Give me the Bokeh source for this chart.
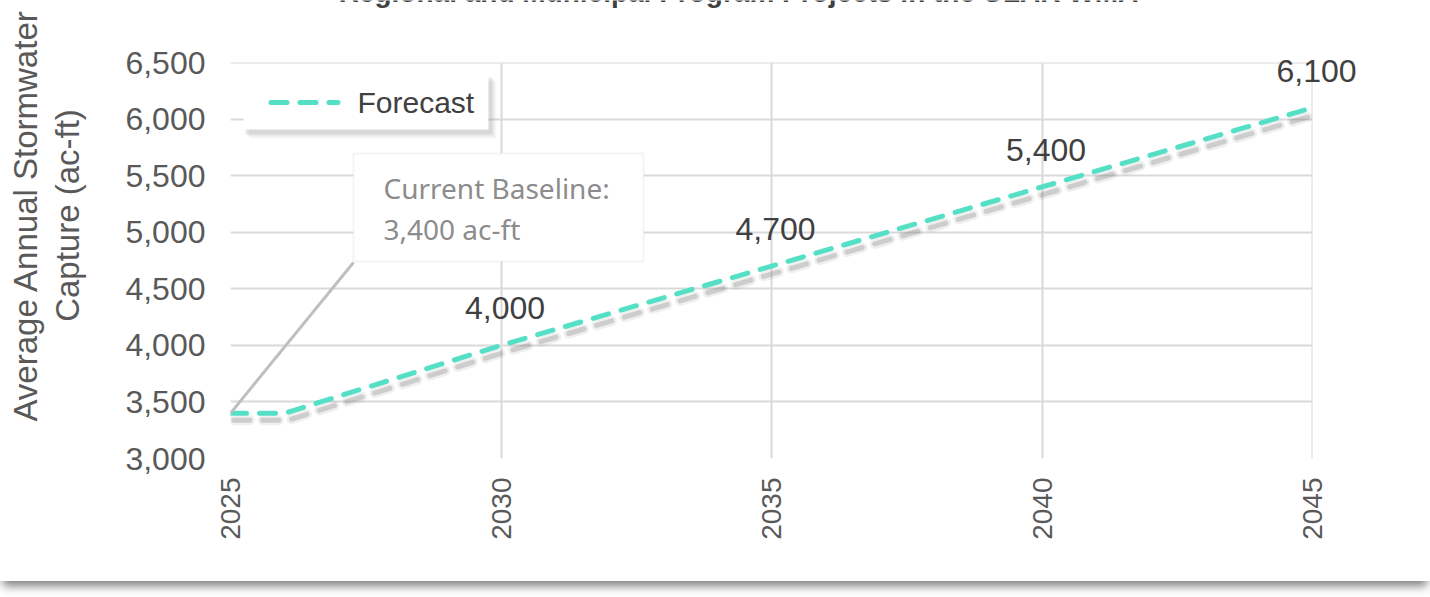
import math
from bokeh.plotting import figure
from bokeh.layouts import row
from bokeh.models import (ColumnDataSource, Range1d, FixedTicker, NumeralTickFormatter,
                          LabelSet, Label, BoxAnnotation, Arrow)
from bokeh.transform import dodge
from bokeh.core.properties import value
from bokeh.embed import file_html
from bokeh.resources import INLINE

# ---- data ----
title_text = "Regional and Municipal Program Projects in the ULAR WMA"
series_name = "Forecast"
years = [2025, 2026, 2030, 2035, 2040, 2045]
forecast = [3400, 3400, 4000, 4700, 5400, 6100]
label_years = [2030, 2035, 2040, 2045]
label_values = [4000, 4700, 5400, 6100]
x_ticks = [2025, 2030, 2035, 2040, 2045]
y_ticks = [3000, 3500, 4000, 4500, 5000, 5500, 6000, 6500]
baseline_year = 2025
baseline_value = 3400
callout_lines = ["Current Baseline:", "3,400 ac-ft"]
y_title_lines = ["Average Annual Stormwater", "Capture (ac-ft)"]

TURQ = "#55E0C6"
ARIAL = "Liberation Sans"
DASH = "16 13"

# ---- layout geometry (pixels) ----
TOTAL_H = 581
LEFT_W = 100                  # narrow panel holding the y-axis title
PLOT_W = 1430 - LEFT_W
FRAME_LEFT = 130              # inside the main figure
AREA_W, AREA_H = 1082, 396    # plot area of the chart
AREA_TOP = 62
BOTTOM = TOTAL_H - AREA_TOP - AREA_H
FRAME_H = TOTAL_H - BOTTOM

# the frame runs past the plot area (right and top) so that labels may overflow it;
# the overflow is covered with white.
x0, x1 = x_ticks[0], x_ticks[-1]
y0, y1 = y_ticks[0], y_ticks[-1]
x_end = x1 + (PLOT_W - FRAME_LEFT - AREA_W) * (x1 - x0) / AREA_W
y_end = y1 + AREA_TOP * (y1 - y0) / AREA_H


def sbox(**kw):
    return BoxAnnotation(left_units="screen", right_units="screen",
                         top_units="screen", bottom_units="screen", **kw)


p = figure(width=PLOT_W, height=TOTAL_H, output_backend="svg", toolbar_location=None,
           x_range=Range1d(x0, x_end), y_range=Range1d(y0, y_end),
           min_border_left=FRAME_LEFT, min_border_right=0, min_border_top=0,
           min_border_bottom=BOTTOM)
p.outline_line_color = None
p.background_fill_color = "white"
p.border_fill_color = "white"

# axes
p.xaxis.ticker = FixedTicker(ticks=x_ticks)
p.yaxis.ticker = FixedTicker(ticks=y_ticks)
p.yaxis.formatter = NumeralTickFormatter(format="0,0")
p.xaxis.major_label_orientation = math.pi / 2
for ax in p.axis:
    ax.axis_line_color = None
    ax.major_tick_line_color = None
    ax.minor_tick_line_color = None
    ax.major_tick_out = 0
    ax.major_tick_in = 0
    ax.minor_tick_out = 0
    ax.minor_tick_in = 0
    ax.major_label_text_font = ARIAL
    ax.major_label_text_color = "#595959"
p.yaxis.major_label_text_font_size = "32px"
p.xaxis.major_label_text_font_size = "28px"
p.yaxis.major_label_standoff = 25
p.xaxis.major_label_standoff = 19

p.grid.grid_line_color = "#d9d9d9"
p.grid.grid_line_width = 2

# white covers outside the plot area (above the grid)
p.add_layout(BoxAnnotation(left=x1, fill_color="white", fill_alpha=1,
                           line_color=None, level="underlay"))
p.add_layout(BoxAnnotation(bottom=y1, fill_color="white", fill_alpha=1,
                           line_color=None, level="underlay"))

# line shadow
src = ColumnDataSource(dict(year=years, value=forecast))
p.line(x=dodge("year", 0.06), y=dodge("value", -62), source=src,
       line_color="#7f7f7f", line_alpha=0.12, line_width=10,
       line_dash=DASH, line_cap="round")
p.line(x=dodge("year", 0.06), y=dodge("value", -62), source=src,
       line_color="#7f7f7f", line_alpha=0.3, line_width=5,
       line_dash=DASH, line_cap="round")

# callout leader line
p.add_layout(Arrow(x_start=baseline_year, y_start=baseline_value, start_units="data",
                   x_end=123, y_end=196, end_units="screen", end=None,
                   line_color="#bfbfbf", line_width=3))

main = p.line(x="year", y="value", source=src, line_color=TURQ, line_width=5,
              line_dash=DASH, line_cap="round")

# data labels
lsrc = ColumnDataSource(dict(year=label_years, value=label_values,
                             text=[f"{v:,}" for v in label_values]))
p.add_layout(LabelSet(x="year", y="value", text="text", source=lsrc,
                      x_offset=4, y_offset=26, text_align="center",
                      text_baseline="alphabetic", text_font_size="32px",
                      text_color="#404040", text_font=value(ARIAL)))

# callout box
p.add_layout(sbox(left=123, right=413, top=305, bottom=197,
                  fill_color="white", fill_alpha=1,
                  line_color="#d9d9d9", line_width=2))
for txt, yy in zip(callout_lines, [271, 230]):
    p.add_layout(Label(x=153, y=yy, x_units="screen", y_units="screen",
                       text=txt, text_font="Noto Sans",
                       text_font_size="28px", text_color="#8c8c8c",
                       text_baseline="middle"))

# legend (soft shadow, box, sample line, text)
for d, a in [(8, 0.06), (6, 0.1), (4, 0.16)]:
    p.add_layout(sbox(left=13 + d - 2, right=258 + d, top=383 - d + 2, bottom=329 - d - 1,
                      fill_color="#7f7f7f", fill_alpha=a, line_color=None))
p.add_layout(sbox(left=13, right=258, top=383, bottom=329,
                  fill_color="white", fill_alpha=1, line_color=None))
p.add_layout(Arrow(x_start=40.5, y_start=356, x_end=107.5, y_end=356,
                   start_units="screen", end_units="screen", end=None,
                   line_color=TURQ, line_width=5, line_dash=DASH, line_cap="round"))
p.add_layout(Label(x=127, y=356, x_units="screen", y_units="screen",
                   text=series_name, text_font=ARIAL, text_font_size="30px",
                   text_color="#404040", text_baseline="middle"))

# chart title (cut off at the top edge, as in the reference)
p.add_layout(Label(x=508, y=AREA_TOP + AREA_H + 8, x_units="screen", y_units="screen",
                   text=title_text, text_align="center", text_baseline="middle",
                   text_font=ARIAL, text_font_size="28px", text_font_style="bold",
                   text_color="#404040"))

# narrow left figure for the two-line y-axis title (frame aligned with the main one)
q = figure(width=LEFT_W, height=TOTAL_H, output_backend="svg", toolbar_location=None,
           x_range=Range1d(0, LEFT_W), y_range=Range1d(0, FRAME_H),
           x_axis_type=None, y_axis_type=None,
           min_border_left=0, min_border_right=0, min_border_top=0,
           min_border_bottom=BOTTOM)
q.outline_line_color = None
q.grid.visible = False
q.background_fill_color = "white"
q.border_fill_color = "white"
for txt, xx in zip(y_title_lines, [25, 67]):
    q.add_layout(Label(x=xx, y=FRAME_H - 215, angle=math.pi / 2, text=txt,
                       text_align="center", text_baseline="middle", text_font=ARIAL,
                       text_font_size="33px", text_color="#595959"))

layout = row(q, p, spacing=0)
layout.styles = {"box-shadow": "0px 8px 9px -3px rgba(0,0,0,0.5)"}

open("out.html", "w").write(file_html(layout, INLINE))
